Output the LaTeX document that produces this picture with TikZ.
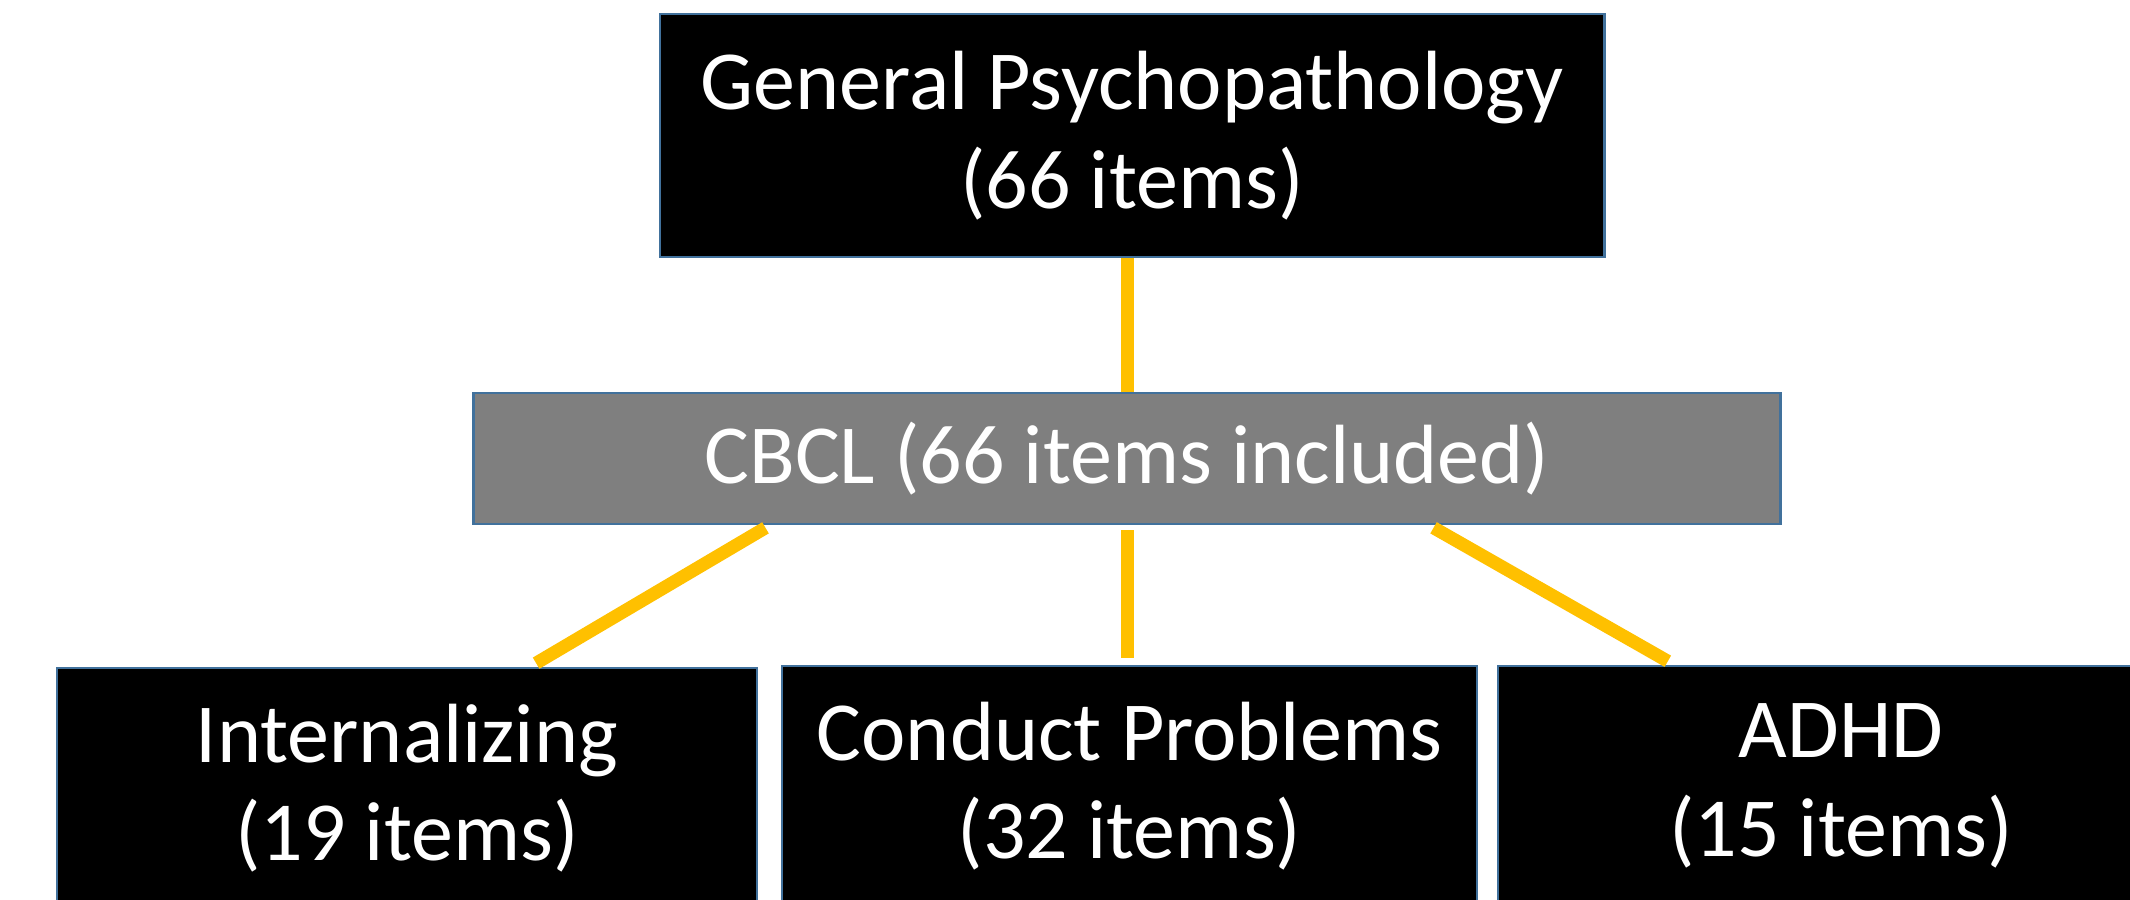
\documentclass[tikz,border=0pt]{standalone}
\usepackage{fontspec}
\setmainfont{Carlito}
\usetikzlibrary{calc}
\definecolor{boxedge}{RGB}{65,113,156}
\definecolor{linkgold}{RGB}{255,192,0}
\definecolor{midgrey}{RGB}{127,127,127}
\tikzset{
  darkbox/.style={draw=boxedge, line width=0.7pt, fill=black, text=white, align=center, inner sep=0pt,
    font=\fontsize{23.9pt}{28pt}\selectfont},
  greybox/.style={darkbox, fill=midgrey},
  link/.style={draw=linkgold, line width=0.13cm},
  lowlink/.style={link, shorten <=0.05cm, shorten >=0.07cm}
}
\begin{document}
\begin{tikzpicture}[x=0.01cm, y=-0.01cm]
\useasboundingbox (0,0) rectangle (2130,899);
\clip (0,0) rectangle (2130,899);
\node[darkbox, minimum width=9.44cm, minimum height=2.43cm] (top) at (1132,135.5) {General Psychopathology\\(66 items)};
\node[greybox, minimum width=13.06cm, minimum height=1.31cm] (cbcl) at (1127,458.5) {CBCL (66 items included)};
\node[darkbox, minimum width=7.00cm, minimum height=2.40cm] (intern) at (407,788) {Internalizing\\(19 items)};
\node[darkbox, minimum width=6.95cm, minimum height=2.40cm] (conduct) at (1129.5,786) {Conduct Problems\\(32 items)};
\node[darkbox, minimum width=6.86cm, minimum height=2.40cm] (adhd) at (1841,786) {ADHD\\(15 items)};
\draw[link] (cbcl.north |- top.south) -- (cbcl.north);
\draw[lowlink] ([xshift=-3.57cm]cbcl.south) -- ([xshift=1.23cm]intern.north);
\draw[lowlink] (cbcl.south) -- (cbcl.south |- conduct.north);
\draw[lowlink] ([xshift=3.02cm]cbcl.south) -- ([xshift=-1.67cm]adhd.north);
\end{tikzpicture}
\end{document}
